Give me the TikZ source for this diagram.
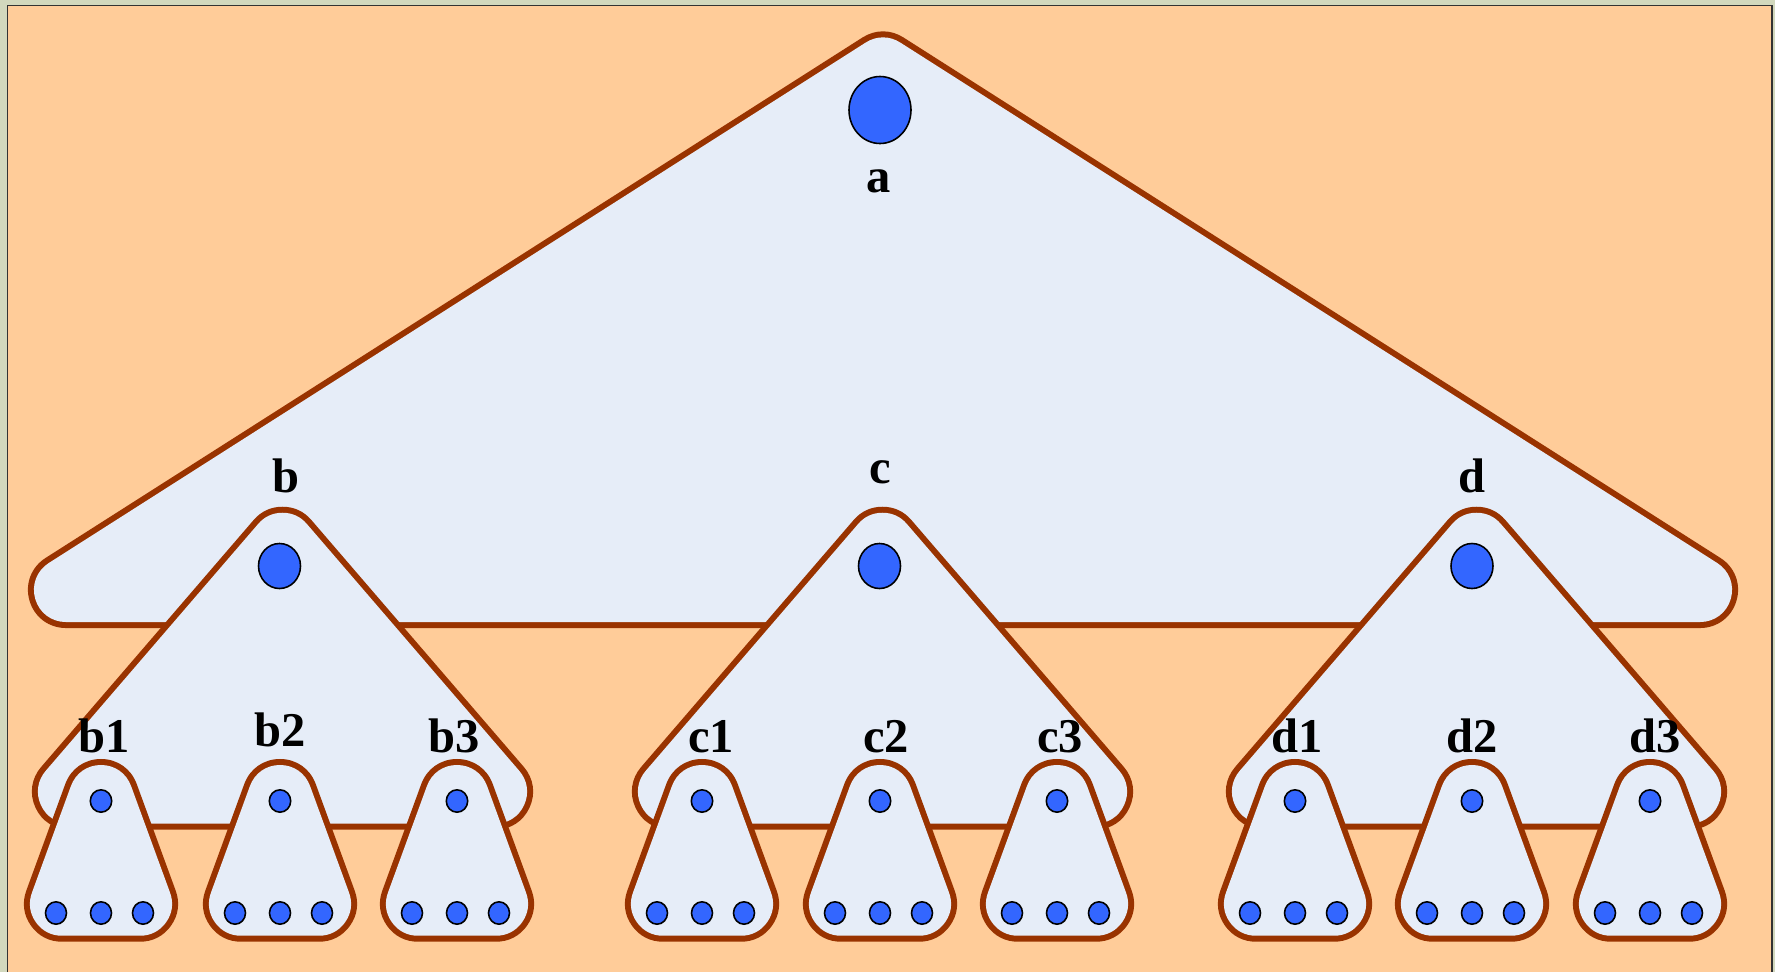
\documentclass[tikz,border=0pt]{standalone}
\usepackage{fontspec}
\setmainfont{Liberation Serif}
\definecolor{peach}{HTML}{FFCC99}
\definecolor{framegreen}{HTML}{D2D8BD}
\definecolor{shapefill}{HTML}{E6EDF8}
\definecolor{edgebrown}{HTML}{993300}
\definecolor{dotblue}{HTML}{3366FF}
\tikzset{
  outerblob/.style={draw=edgebrown, fill=edgebrown, line width=0.76cm, line join=round},
  innerblob/.style={draw=shapefill, fill=shapefill, line width=0.64cm, line join=round},
  dotstyle/.style={fill=dotblue, draw=black, line width=0.45pt},
  lbl/.style={anchor=base, inner sep=0pt, font=\fontsize{13.8}{16}\selectfont\bfseries},
  medtri/.pic={
    \path[outerblob] (0,544.75) -- (-212.5,791.7) -- (212.5,791.7) -- cycle;
    \path[innerblob] (0,544.75) -- (-212.5,791.7) -- (212.5,791.7) -- cycle;
  },
  smalltri/.pic={
    \path[outerblob] (0,797) -- (-39,903.7) -- (39,903.7) -- cycle;
    \path[innerblob] (0,797) -- (-39,903.7) -- (39,903.7) -- cycle;
    \path[dotstyle] (0,801) ellipse [x radius=10.7, y radius=11.2];
    \path[dotstyle] (-45,913) ellipse [x radius=10.5, y radius=11.2];
    \path[dotstyle] (0,913) ellipse [x radius=10.5, y radius=11.2];
    \path[dotstyle] (42,913) ellipse [x radius=10.5, y radius=11.2];
  }
}
\begin{document}
\begin{tikzpicture}[x=0.01cm, y=-0.01cm]
\useasboundingbox (0,0) rectangle (1775,972);
% frame
\fill[framegreen] (0,0) rectangle (1775,972);
\fill[peach] (7.5,5.5) rectangle (1772,972);
\draw[black!80, line width=0.45pt] (7.5,972) -- (7.5,5.5) -- (1772,5.5) -- (1772,972);
% big triangle
\path[outerblob] (883,69.5) -- (66,590) -- (1700,590) -- cycle;
\path[innerblob] (883,69.5) -- (66,590) -- (1700,590) -- cycle;
\path[dotstyle] (880,110) ellipse [x radius=31, y radius=33.5];
% medium triangles
\pic at (282.5,0) {medtri};
\pic at (882.5,0) {medtri};
\pic at (1476.5,0) {medtri};
\path[dotstyle] (279.5,566) ellipse [x radius=21, y radius=22.5];
\path[dotstyle] (879.5,566) ellipse [x radius=21, y radius=22.5];
\path[dotstyle] (1472,566) ellipse [x radius=21, y radius=22.5];
% small triangles
\pic at (101,0) {smalltri};
\pic at (280,0) {smalltri};
\pic at (457,0) {smalltri};
\pic at (702,0) {smalltri};
\pic at (880,0) {smalltri};
\pic at (1057,0) {smalltri};
\pic at (1295,0) {smalltri};
\pic at (1472,0) {smalltri};
\pic at (1650,0) {smalltri};
% labels
\node[lbl] (la) at (879,192) {a};
\node[lbl] (lb) at (286,492) {b};
\node[lbl] (lc) at (880,483) {c};
\node[lbl] (ld) at (1472,492) {d};
\node[lbl] (lb1) at (104,752) {b1};
\node[lbl] (lb2) at (280,746) {b2};
\node[lbl] (lb3) at (454,752) {b3};
\node[lbl] (lc1) at (711,752) {c1};
\node[lbl] (lc2) at (886,752) {c2};
\node[lbl] (lc3) at (1060,752) {c3};
\node[lbl] (ld1) at (1297,752) {d1};
\node[lbl] (ld2) at (1472,752) {d2};
\node[lbl] (ld3) at (1655,752) {d3};
\end{tikzpicture}
\end{document}
